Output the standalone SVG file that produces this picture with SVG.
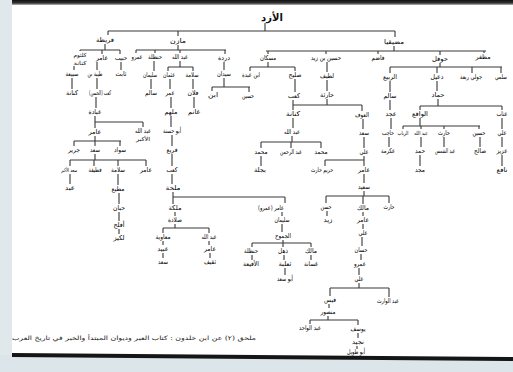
<svg xmlns="http://www.w3.org/2000/svg" width="513" height="372" viewBox="0 0 513 372">
<defs>
<linearGradient id="topg" x1="0" y1="0" x2="0" y2="1"><stop offset="0" stop-color="#111"/><stop offset="0.6" stop-color="#333"/><stop offset="1" stop-color="#bbb"/></linearGradient>
</defs>
<style>
.t{font-family:"DejaVu Sans",sans-serif;font-size:6.5px;fill:#000;text-anchor:middle;dominant-baseline:central}
.s{font-size:5.5px}
.ti{font-family:"DejaVu Sans",sans-serif;font-size:10px;font-weight:bold;fill:#111;text-anchor:middle;dominant-baseline:central}
.fn{font-family:"DejaVu Sans",sans-serif;font-size:6px;fill:#1a1a1a;text-anchor:middle;dominant-baseline:central}
.c{fill:none;stroke:#383838;stroke-width:1.1}
</style>
<rect x="0" y="0" width="513" height="372" fill="#ffffff"/>
<rect x="0" y="0" width="12" height="372" fill="#e1e8ec"/>
<rect x="12" y="0" width="501" height="5" fill="url(#topg)"/>
<polygon points="0,355 513,359 513,372 0,372" fill="#dbe5ea"/>
<polygon points="12,353 513,357 513,361 12,357" fill="#151515"/>

<g id="connectors" class="c">
<path d="M265,23V31 M108,31H395 M108,31V35 M178,31V36 M395,31V37"/>
<path d="M105,44V50 M80,50H120 M80,50V51 M102,50V54 M120,50V54"/>
<path d="M178,45V50 M136,50H226 M136,50V53 M155,50V53 M180,50V53 M225,50V54"/>
<path d="M394,46V51 M266,51H486 M268,51V54 M326,51V54 M378,51V54 M440,51V55 M484,51V53"/>
<path d="M74,66V70 M97,62V70 M121,62V70 M72,78V89 M97,78V89 M96,97V108"/>
<path d="M154,61V71 M151,79V89 M180,61V67 M168,67H193 M168,67V71 M193,67V71 M170,79V89 M171,97V108 M193,79V89 M194,97V108"/>
<path d="M224,62V70 M224,78V87 M212,87H250 M212,87V91 M249,87V92"/>
<path d="M268,62V67 M250,67H295 M250,67V71 M295,67V71 M295,79V92"/>
<path d="M327,62V72 M327,80V91 M327,99V105 M293,105H362 M293,100V110 M362,105V111"/>
<path d="M293,118V128 M292,136V142 M261,142H321 M261,142V148 M291,142V148 M321,142V148 M261,156V166"/>
<path d="M363,119V129 M364,137V148 M364,156V160 M325,160H364 M325,160V166 M364,160V166 M364,174V183"/>
<path d="M364,191V196 M326,196H389 M326,196V203 M363,196V204 M389,196V203 M327,211V216 M363,212V216 M363,224V229 M362,237V246 M361,254V260 M359,268V275"/>
<path d="M359,283V288 M330,288H389 M330,288V296 M389,288V297 M329,304V308 M328,316V320 M310,320H358 M310,320V324 M358,320V325 M358,333V338 M357,346V349"/>
<path d="M440,63V67 M390,67H502 M390,67V73 M437,67V73 M472,67V73 M501,67V73"/>
<path d="M390,81V92 M390,100V110 M391,118V129 M389,137V147"/>
<path d="M437,81V91 M438,99V106 M420,106H502 M420,106V110 M502,106V110"/>
<path d="M420,118V126 M403,126H480 M403,126V129 M421,126V129 M444,126V129 M479,126V129 M421,137V147 M420,155V166 M444,137V147 M480,137V147"/>
<path d="M502,118V129 M502,137V147 M502,155V166"/>
<path d="M95,116V122 M95,122H143 M95,122V128 M143,122V127 M95,136V141 M74,141H121 M74,141V146 M95,141V146 M120,141V146"/>
<path d="M95,154V160 M70,160H146 M70,160V166 M94,160V166 M118,160V166 M146,160V166 M70,174V184"/>
<path d="M118,174V185 M119,193V204 M119,212V221 M119,229V234"/>
<path d="M171,116V127 M172,135V146 M172,154V166 M172,174V184 M173,192V204 M173,197H285 M285,197V203"/>
<path d="M175,212V216 M175,224V228 M163,228H209 M163,228V233 M209,228V233 M163,241V245 M163,253V258 M209,241V245 M210,253V258"/>
<path d="M282,212V216 M282,224V232 M283,240V243 M252,243H311 M252,243V247 M283,243V247 M311,243V247 M252,255V260 M284,255V260 M285,268V275 M311,255V260"/>
</g>

<g id="n-title"><text class="ti" x="272" y="17">الأزد</text></g>
<g id="n-a"><text class="t" x="105" y="40" textLength="18" lengthAdjust="spacingAndGlyphs">قريظة</text></g>
<g id="n-b"><text class="t" x="178" y="41" textLength="16" lengthAdjust="spacingAndGlyphs">مازن</text></g>
<g id="n-c"><text class="t" x="394" y="42" textLength="20" lengthAdjust="spacingAndGlyphs">مضيقيا</text></g>

<g id="n-a1"><text class="t s" x="80" y="55" textLength="13" lengthAdjust="spacingAndGlyphs">كلثوم</text><text class="t s" x="80" y="62.5" textLength="13" lengthAdjust="spacingAndGlyphs">كنانة</text></g>
<g id="n-a2"><text class="t" x="102" y="58" textLength="12" lengthAdjust="spacingAndGlyphs">عامر</text></g>
<g id="n-a3"><text class="t" x="121" y="58" textLength="12" lengthAdjust="spacingAndGlyphs">حبيب</text></g>
<g id="n-b1"><text class="t" x="137" y="57" textLength="11" lengthAdjust="spacingAndGlyphs">عمرو</text></g>
<g id="n-b2"><text class="t" x="155" y="57" textLength="14" lengthAdjust="spacingAndGlyphs">حنظلة</text></g>
<g id="n-b3"><text class="t" x="180" y="57" textLength="16" lengthAdjust="spacingAndGlyphs">عبد الله</text></g>
<g id="n-b4"><text class="t" x="224" y="58" textLength="12" lengthAdjust="spacingAndGlyphs">دردة</text></g>
<g id="n-c1"><text class="t" x="268" y="58" textLength="16" lengthAdjust="spacingAndGlyphs">مسكان</text></g>
<g id="n-c2"><text class="t" x="326" y="58" textLength="30" lengthAdjust="spacingAndGlyphs">حسين بن زيد</text></g>
<g id="n-c3"><text class="t" x="378" y="58" textLength="13" lengthAdjust="spacingAndGlyphs">قاضم</text></g>
<g id="n-c4"><text class="t" x="440" y="59" textLength="16" lengthAdjust="spacingAndGlyphs">حوقل</text></g>
<g id="n-c5"><text class="t" x="483" y="57" textLength="15" lengthAdjust="spacingAndGlyphs">مظفر</text></g>

<g id="n-r3a"><text class="t" x="72" y="74" textLength="13" lengthAdjust="spacingAndGlyphs">سبيعة</text></g>
<g id="n-r3b"><text class="t" x="95" y="74" textLength="15" lengthAdjust="spacingAndGlyphs">طيبة بن</text></g>
<g id="n-r3c"><text class="t" x="121" y="74" textLength="11" lengthAdjust="spacingAndGlyphs">ثابت</text></g>
<g id="n-r3d"><text class="t" x="150" y="75" textLength="14" lengthAdjust="spacingAndGlyphs">سليمان</text></g>
<g id="n-r3e"><text class="t" x="169" y="75" textLength="12" lengthAdjust="spacingAndGlyphs">عثمان</text></g>
<g id="n-r3f"><text class="t" x="192" y="75" textLength="13" lengthAdjust="spacingAndGlyphs">سلامة</text></g>
<g id="n-r3g"><text class="t" x="224" y="74" textLength="14" lengthAdjust="spacingAndGlyphs">سيدان</text></g>
<g id="n-r3h"><text class="t" x="251" y="75" textLength="18" lengthAdjust="spacingAndGlyphs">ابن عبدة</text></g>
<g id="n-r3i"><text class="t" x="295" y="75" textLength="13" lengthAdjust="spacingAndGlyphs">صليح</text></g>
<g id="n-r3j"><text class="t" x="327" y="76" textLength="14" lengthAdjust="spacingAndGlyphs">لطيف</text></g>
<g id="n-r3k"><text class="t" x="390" y="77" textLength="14" lengthAdjust="spacingAndGlyphs">الربيع</text></g>
<g id="n-r3l"><text class="t" x="437" y="77" textLength="13" lengthAdjust="spacingAndGlyphs">دعيل</text></g>
<g id="n-r3m"><text class="t" x="471" y="77" textLength="22" lengthAdjust="spacingAndGlyphs">جولي ربعة</text></g>
<g id="n-r3n"><text class="t" x="501" y="77" textLength="12" lengthAdjust="spacingAndGlyphs">سلمي</text></g>

<g id="n-r4a"><text class="t" x="72" y="93" textLength="12" lengthAdjust="spacingAndGlyphs">كنانة</text></g>
<g id="n-r4b"><text class="t" x="100" y="93" textLength="22" lengthAdjust="spacingAndGlyphs">(الحسن) كعب</text></g>
<g id="n-r4c"><text class="t" x="151" y="93" textLength="12" lengthAdjust="spacingAndGlyphs">سالم</text></g>
<g id="n-r4d"><text class="t" x="170" y="93" textLength="9" lengthAdjust="spacingAndGlyphs">عمر</text></g>
<g id="n-r4e"><text class="t" x="193" y="93" textLength="11" lengthAdjust="spacingAndGlyphs">فلان</text></g>
<g id="n-r4f"><text class="t" x="213" y="95" textLength="10" lengthAdjust="spacingAndGlyphs">ابن</text></g>
<g id="n-r4g"><text class="t" x="248" y="96" textLength="12" lengthAdjust="spacingAndGlyphs">حسين</text></g>
<g id="n-r4h"><text class="t" x="294" y="96" textLength="12" lengthAdjust="spacingAndGlyphs">كعب</text></g>
<g id="n-r4i"><text class="t" x="327" y="95" textLength="14" lengthAdjust="spacingAndGlyphs">حارثة</text></g>
<g id="n-r4j"><text class="t" x="390" y="96" textLength="13" lengthAdjust="spacingAndGlyphs">سالم</text></g>
<g id="n-r4k"><text class="t" x="438" y="95" textLength="13" lengthAdjust="spacingAndGlyphs">حماد</text></g>

<g id="n-r5a"><text class="t" x="95" y="112" textLength="13" lengthAdjust="spacingAndGlyphs">عبادة</text></g>
<g id="n-r5b"><text class="t" x="171" y="112" textLength="13" lengthAdjust="spacingAndGlyphs">ملهم</text></g>
<g id="n-r5c"><text class="t" x="194" y="112" textLength="12" lengthAdjust="spacingAndGlyphs">غانم</text></g>
<g id="n-r5d"><text class="t" x="293" y="114" textLength="14" lengthAdjust="spacingAndGlyphs">كنانة</text></g>
<g id="n-r5e"><text class="t" x="362" y="115" textLength="14" lengthAdjust="spacingAndGlyphs">العوف</text></g>
<g id="n-r5f"><text class="t" x="391" y="114" textLength="11" lengthAdjust="spacingAndGlyphs">عجد</text></g>
<g id="n-r5g"><text class="t" x="420" y="114" textLength="16" lengthAdjust="spacingAndGlyphs">الواقع</text></g>
<g id="n-r5h"><text class="t" x="502" y="114" textLength="11" lengthAdjust="spacingAndGlyphs">عتاب</text></g>

<g id="n-r6a"><text class="t" x="95" y="132" textLength="13" lengthAdjust="spacingAndGlyphs">عامر</text></g>
<g id="n-r6b"><text class="t" x="143" y="131" textLength="16" lengthAdjust="spacingAndGlyphs">عبد الله</text><text class="t s" x="143" y="138.5" textLength="14" lengthAdjust="spacingAndGlyphs">الأكبر</text></g>
<g id="n-r6c"><text class="t" x="172" y="131" textLength="18" lengthAdjust="spacingAndGlyphs">أبو حسنة</text></g>
<g id="n-r6d"><text class="t" x="292" y="132" textLength="16" lengthAdjust="spacingAndGlyphs">عبد الله</text></g>
<g id="n-r6e"><text class="t" x="364" y="133" textLength="10" lengthAdjust="spacingAndGlyphs">سعد</text></g>
<g id="n-r6f"><text class="t" x="388" y="133" textLength="12" lengthAdjust="spacingAndGlyphs">حاجب</text></g>
<g id="n-r6g"><text class="t s" x="403" y="133" textLength="11" lengthAdjust="spacingAndGlyphs">الرباب</text></g>
<g id="n-r6h"><text class="t s" x="421" y="133" textLength="14" lengthAdjust="spacingAndGlyphs">عبد الله</text></g>
<g id="n-r6i"><text class="t" x="444" y="133" textLength="12" lengthAdjust="spacingAndGlyphs">حارث</text></g>
<g id="n-r6j"><text class="t" x="479" y="133" textLength="13" lengthAdjust="spacingAndGlyphs">حسين</text></g>
<g id="n-r6k"><text class="t" x="502" y="133" textLength="9" lengthAdjust="spacingAndGlyphs">علي</text></g>

<g id="n-r7a"><text class="t" x="74" y="150" textLength="12" lengthAdjust="spacingAndGlyphs">جرير</text></g>
<g id="n-r7b"><text class="t" x="95" y="150" textLength="10" lengthAdjust="spacingAndGlyphs">سعد</text></g>
<g id="n-r7c"><text class="t" x="120" y="150" textLength="12" lengthAdjust="spacingAndGlyphs">سواد</text></g>
<g id="n-r7d"><text class="t" x="172" y="150" textLength="11" lengthAdjust="spacingAndGlyphs">قريع</text></g>
<g id="n-r7e"><text class="t" x="261" y="152" textLength="13" lengthAdjust="spacingAndGlyphs">محمد</text></g>
<g id="n-r7f"><text class="t" x="291" y="152" textLength="22" lengthAdjust="spacingAndGlyphs">عبد الرحمن</text></g>
<g id="n-r7g"><text class="t" x="321" y="152" textLength="13" lengthAdjust="spacingAndGlyphs">محمد</text></g>
<g id="n-r7h"><text class="t" x="364" y="152" textLength="9" lengthAdjust="spacingAndGlyphs">علي</text></g>
<g id="n-r7i"><text class="t" x="388" y="151" textLength="14" lengthAdjust="spacingAndGlyphs">عكرمة</text></g>
<g id="n-r7j"><text class="t" x="420" y="151" textLength="10" lengthAdjust="spacingAndGlyphs">حمد</text></g>
<g id="n-r7k"><text class="t" x="445" y="151" textLength="20" lengthAdjust="spacingAndGlyphs">عبد الشمس</text></g>
<g id="n-r7l"><text class="t" x="480" y="151" textLength="12" lengthAdjust="spacingAndGlyphs">صالح</text></g>
<g id="n-r7m"><text class="t" x="502" y="151" textLength="11" lengthAdjust="spacingAndGlyphs">عزيز</text></g>

<g id="n-r8a"><text class="t s" x="69" y="170" textLength="16" lengthAdjust="spacingAndGlyphs">سعد الأكبر</text></g>
<g id="n-r8b"><text class="t" x="95" y="170" textLength="13" lengthAdjust="spacingAndGlyphs">قطيفة</text></g>
<g id="n-r8c"><text class="t" x="118" y="170" textLength="14" lengthAdjust="spacingAndGlyphs">سلامة</text></g>
<g id="n-r8d"><text class="t" x="146" y="170" textLength="12" lengthAdjust="spacingAndGlyphs">عامر</text></g>
<g id="n-r8e"><text class="t" x="172" y="170" textLength="11" lengthAdjust="spacingAndGlyphs">كعب</text></g>
<g id="n-r8f"><text class="t" x="260" y="170" textLength="12" lengthAdjust="spacingAndGlyphs">بجلة</text></g>
<g id="n-r8g"><text class="t" x="322" y="170" textLength="22" lengthAdjust="spacingAndGlyphs">حريم حارث</text></g>
<g id="n-r8h"><text class="t" x="364" y="170" textLength="12" lengthAdjust="spacingAndGlyphs">عامر</text></g>
<g id="n-r8i"><text class="t" x="420" y="170" textLength="10" lengthAdjust="spacingAndGlyphs">مجد</text></g>
<g id="n-r8j"><text class="t" x="502" y="170" textLength="11" lengthAdjust="spacingAndGlyphs">نافع</text></g>

<g id="n-r9a"><text class="t" x="70" y="188" textLength="10" lengthAdjust="spacingAndGlyphs">عبد</text></g>
<g id="n-r9b"><text class="t" x="118" y="189" textLength="13" lengthAdjust="spacingAndGlyphs">مطيع</text></g>
<g id="n-r9c"><text class="t" x="173" y="188" textLength="15" lengthAdjust="spacingAndGlyphs">ملحة</text></g>
<g id="n-r9d"><text class="t" x="364" y="187" textLength="12" lengthAdjust="spacingAndGlyphs">سعيد</text></g>

<g id="n-r10a"><text class="t" x="119" y="208" textLength="12" lengthAdjust="spacingAndGlyphs">حبان</text></g>
<g id="n-r10b"><text class="t" x="175" y="208" textLength="13" lengthAdjust="spacingAndGlyphs">ملكة</text></g>
<g id="n-r10c"><text class="t" x="271" y="208" textLength="26" lengthAdjust="spacingAndGlyphs">عامر (عمرو)</text></g>
<g id="n-r10d"><text class="t" x="326" y="207" textLength="11" lengthAdjust="spacingAndGlyphs">حسن</text></g>
<g id="n-r10e"><text class="t" x="363" y="208" textLength="12" lengthAdjust="spacingAndGlyphs">مالك</text></g>
<g id="n-r10f"><text class="t" x="389" y="207" textLength="11" lengthAdjust="spacingAndGlyphs">حارث</text></g>

<g id="n-r11a"><text class="t" x="119" y="225" textLength="11" lengthAdjust="spacingAndGlyphs">أفلح</text></g>
<g id="n-r11b"><text class="t" x="175" y="220" textLength="14" lengthAdjust="spacingAndGlyphs">صلادة</text></g>
<g id="n-r11c"><text class="t" x="282" y="220" textLength="15" lengthAdjust="spacingAndGlyphs">سليمان</text></g>
<g id="n-r11d"><text class="t" x="328" y="220" textLength="9" lengthAdjust="spacingAndGlyphs">زيد</text></g>
<g id="n-r11e"><text class="t" x="363" y="220" textLength="12" lengthAdjust="spacingAndGlyphs">عامر</text></g>

<g id="n-r12a"><text class="t" x="119" y="238" textLength="11" lengthAdjust="spacingAndGlyphs">لكيز</text></g>
<g id="n-r12b"><text class="t" x="163" y="237" textLength="15" lengthAdjust="spacingAndGlyphs">معاوية</text></g>
<g id="n-r12c"><text class="t" x="209" y="237" textLength="15" lengthAdjust="spacingAndGlyphs">عبد الله</text></g>
<g id="n-r12d"><text class="t" x="283" y="236" textLength="16" lengthAdjust="spacingAndGlyphs">الجموح</text></g>
<g id="n-r12e"><text class="t" x="363" y="233" textLength="9" lengthAdjust="spacingAndGlyphs">علي</text></g>

<g id="n-r13a"><text class="t" x="163" y="249" textLength="11" lengthAdjust="spacingAndGlyphs">عبيد</text></g>
<g id="n-r13b"><text class="t" x="210" y="249" textLength="12" lengthAdjust="spacingAndGlyphs">عامر</text></g>
<g id="n-r13c"><text class="t" x="251" y="251" textLength="14" lengthAdjust="spacingAndGlyphs">حنظلة</text></g>
<g id="n-r13d"><text class="t" x="283" y="251" textLength="10" lengthAdjust="spacingAndGlyphs">ذهل</text></g>
<g id="n-r13e"><text class="t" x="311" y="251" textLength="12" lengthAdjust="spacingAndGlyphs">مالك</text></g>
<g id="n-r13f"><text class="t" x="361" y="250" textLength="13" lengthAdjust="spacingAndGlyphs">حسان</text></g>

<g id="n-r14a"><text class="t" x="163" y="262" textLength="10" lengthAdjust="spacingAndGlyphs">سعد</text></g>
<g id="n-r14b"><text class="t" x="210" y="262" textLength="12" lengthAdjust="spacingAndGlyphs">ثقيف</text></g>
<g id="n-r14c"><text class="t" x="251" y="264" textLength="16" lengthAdjust="spacingAndGlyphs">الأقيعة</text></g>
<g id="n-r14d"><text class="t" x="285" y="264" textLength="13" lengthAdjust="spacingAndGlyphs">ثعلبة</text></g>
<g id="n-r14e"><text class="t" x="311" y="264" textLength="14" lengthAdjust="spacingAndGlyphs">غسانة</text></g>
<g id="n-r14f"><text class="t" x="360" y="264" textLength="12" lengthAdjust="spacingAndGlyphs">عمرو</text></g>

<g id="n-r15a"><text class="t" x="285" y="279" textLength="16" lengthAdjust="spacingAndGlyphs">أبو سعد</text></g>
<g id="n-r15b"><text class="t" x="359" y="279" textLength="9" lengthAdjust="spacingAndGlyphs">علي</text></g>

<g id="n-r16a"><text class="t" x="330" y="300" textLength="12" lengthAdjust="spacingAndGlyphs">قيس</text></g>
<g id="n-r16b"><text class="t" x="388" y="301" textLength="22" lengthAdjust="spacingAndGlyphs">عبد الوارث</text></g>
<g id="n-r17"><text class="t" x="328" y="312" textLength="15" lengthAdjust="spacingAndGlyphs">منصور</text></g>
<g id="n-r18a"><text class="t" x="310" y="328" textLength="22" lengthAdjust="spacingAndGlyphs">عبد الواحد</text></g>
<g id="n-r18b"><text class="t" x="358" y="329" textLength="15" lengthAdjust="spacingAndGlyphs">يوسف</text></g>
<g id="n-r19"><text class="t" x="358" y="342" textLength="12" lengthAdjust="spacingAndGlyphs">نجيد</text></g>
<g id="n-r20"><text class="t" x="356" y="352" textLength="18" lengthAdjust="spacingAndGlyphs">أبو طويل</text></g>

<text class="fn" x="134" y="337" textLength="244" lengthAdjust="spacingAndGlyphs">ملحق (٢) عن ابن خلدون : كتاب العبر وديوان المبتدأ والخبر في تاريخ العرب</text>
</svg>
